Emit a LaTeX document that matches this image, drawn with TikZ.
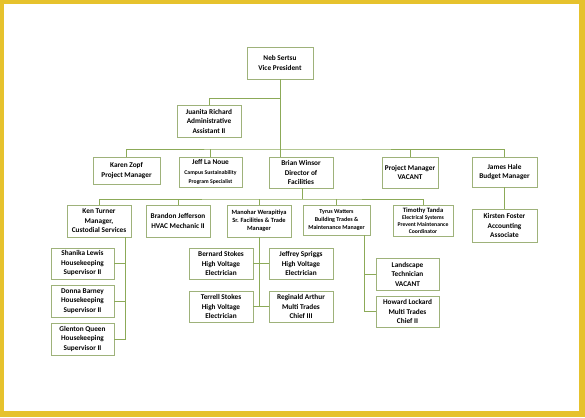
\documentclass[tikz,border=0pt]{standalone}
\usepackage{fontspec}
\setmainfont{Carlito}
\definecolor{framey}{RGB}{230,194,45}
\definecolor{boxline}{RGB}{158,178,122}
\definecolor{linkgreen}{RGB}{140,170,88}
\newcommand{\subline}{\fontsize{5.7}{7}\selectfont}
\begin{document}
\begin{tikzpicture}[
x=1pt, y=-1pt,
unit/.style={draw=boxline, fill=white, line width=0.9pt, align=center, inner sep=1pt,
  font=\bfseries\fontsize{7.3}{9.5}\selectfont},
link/.style={draw=linkgreen, line width=0.9pt}
]
\useasboundingbox (0,0) rectangle (585,417);

% frame
\fill[framey] (0,0) rectangle (585,417);
\fill[white] (4,4) rectangle (579,411);

% top
\node[unit, minimum width=66, minimum height=32] (vp) at (280,63) {Neb Sertsu\\Vice President};
\node[unit, minimum width=64, minimum height=32] (juanita) at (209,121) {Juanita Richard\\Administrative\\Assistant II};

% first level
\node[unit, minimum width=67, minimum height=27] (karen) at (126.5,170.5) {Karen Zopf\\Project Manager};
\node[unit, minimum width=63, minimum height=30] (jeff) at (210.5,172) {Jeff La Noue\\{\subline Campus Sustainability}\\{\subline Program Specialist}};
\node[unit, minimum width=64, minimum height=31] (brian) at (301,172.5) {Brian Winsor\\Director of\\Facilities};
\node[unit, minimum width=56, minimum height=31] (pm) at (410,172.5) {Project Manager\\VACANT};
\node[unit, minimum width=65, minimum height=30] (james) at (504.5,172) {James Hale\\Budget Manager};

% second level
\node[unit, minimum width=64, minimum height=32] (ken) at (99,221) {Ken Turner\\Manager,\\Custodial Services};
\node[unit, minimum width=64, minimum height=32] (brandon) at (178,221) {Brandon Jefferson\\HVAC Mechanic II};
\node[unit, minimum width=64, minimum height=32, font=\bfseries\fontsize{6.4}{8.2}\selectfont] (manohar) at (259,221) {Manohar Werapitiya\\Sr. Facilities \& Trade\\Manager};
\node[unit, minimum width=67, minimum height=30, font=\bfseries\fontsize{6}{7.6}\selectfont] (tyrus) at (336.5,220) {Tyrus Watters\\Building Trades \&\\Maintenance Manager};
\node[unit, minimum width=60, minimum height=31, font=\bfseries\fontsize{6.6}{7}\selectfont] (timothy) at (423,220.5) {Timothy Tanda\\{\subline Electrical Systems}\\{\subline Prevent Maintenance}\\{\subline Coordinator}};
\node[unit, minimum width=65, minimum height=33] (kirsten) at (504.5,225.5) {Kirsten Foster\\Accounting\\Associate};

% third level
\node[unit, minimum width=63, minimum height=31] (shanika) at (82.5,263.5) {Shanika Lewis\\Housekeeping\\Supervisor II};
\node[unit, minimum width=63, minimum height=32] (donna) at (82.5,301) {Donna Barney\\Housekeeping\\Supervisor II};
\node[unit, minimum width=63, minimum height=32] (glenton) at (82.5,339) {Glenton Queen\\Housekeeping\\Supervisor II};

\node[unit, minimum width=64, minimum height=31] (bernard) at (221,263.5) {Bernard Stokes\\High Voltage\\Electrician};
\node[unit, minimum width=64, minimum height=31] (jeffrey) at (301,263.5) {Jeffrey Spriggs\\High Voltage\\Electrician};
\node[unit, minimum width=64, minimum height=31] (terrell) at (221,306.5) {Terrell Stokes\\High Voltage\\Electrician};
\node[unit, minimum width=64, minimum height=31] (reginald) at (301,306.5) {Reginald Arthur\\Multi Trades\\Chief III};

\node[unit, minimum width=63, minimum height=32] (landscape) at (407.5,274) {Landscape\\Technician\\VACANT};
\node[unit, minimum width=63, minimum height=31] (howard) at (407.5,311.5) {Howard Lockard\\Multi Trades\\Chief II};

% bus points
\coordinate (jbar) at (280,98);
\coordinate (lvl1) at (280,149);
\coordinate (lvl2) at (302,199);
\coordinate (kbus) at (125,237);
\coordinate (tbus) at (364,235);

% edges
\draw[link] (vp.south) -- (vp.south |- brian.north);
\draw[link] (jbar) -| (juanita.north);
\draw[link] (karen.north) |- (lvl1) -| (james.north);
\foreach \n in {jeff,pm} \draw[link] (\n.north) -- (\n.north |- lvl1);
\draw[link] (james.south) -- (kirsten.north);

\draw[link] (brian.south -| lvl2) -- (lvl2);
\draw[link] (ken.north) |- (lvl2) -| (timothy.north);
\foreach \n in {brandon,manohar,tyrus} \draw[link] (\n.north) -- (\n.north |- lvl2);

\draw[link] (kbus) |- (glenton.east);
\foreach \n in {shanika,donna} \draw[link] (\n.east) -- (\n.east -| kbus);

\draw[link] (manohar.south) -- (manohar.south |- terrell.east);
\draw[link] (bernard.east) -- (jeffrey.west);
\draw[link] (terrell.east) -- (reginald.west);

\draw[link] (tbus) |- (howard.west);
\draw[link] (landscape.west) -- (landscape.west -| tbus);

\end{tikzpicture}
\end{document}
